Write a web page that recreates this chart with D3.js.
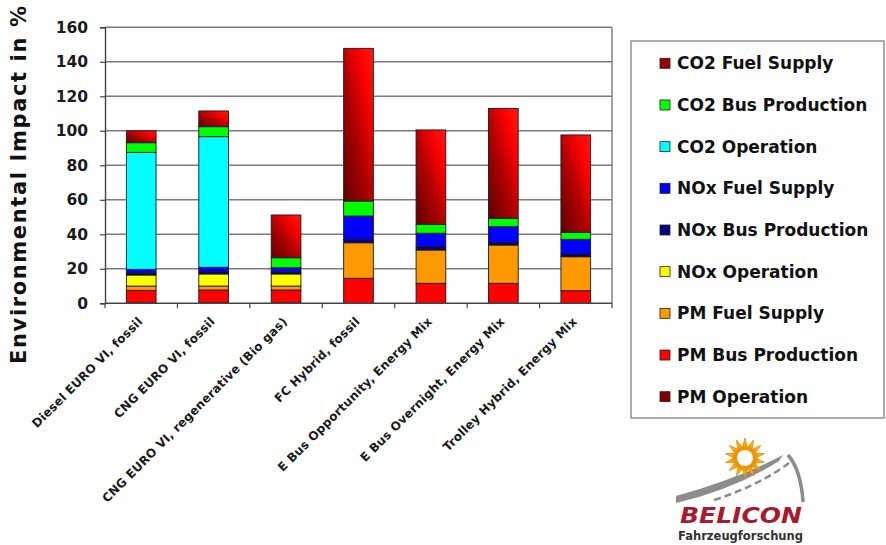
<!DOCTYPE html>
<html>
<head>
<meta charset="utf-8">
<script src="https://cdn.jsdelivr.net/npm/d3@7/dist/d3.min.js"></script>
<style>
  html, body { margin: 0; padding: 0; background: #fff; }
  svg { display: block; }
  text { font-family: "DejaVu Sans", Verdana, sans-serif; }
</style>
</head>
<body>
<svg id="chart" width="886" height="545"></svg>
<script>
// Bus concepts compared
const categories = [
  "Diesel EURO VI, fossil",
  "CNG EURO VI, fossil",
  "CNG EURO VI, regenerative (Bio gas)",
  "FC Hybrid, fossil",
  "E Bus Opportunity, Energy Mix",
  "E Bus Overnight, Energy Mix",
  "Trolley Hybrid, Energy Mix"
];

// Stacked contributions (% of the diesel reference), bottom to top
const pmOperation      = [0.3, 0.3, 0.3, 0, 0, 0, 0];
const pmBusProduction  = [7.2, 7.4, 7.4, 14.5, 11.6, 11.6, 7.3];
const pmFuelSupply     = [2.5, 2.3, 2.3, 20.6, 19.3, 22.2, 19.7];
const noxOperation     = [6.4, 7.0, 7.0, 0, 0, 0, 0];
const noxBusProduction = [1.2, 1.5, 1.2, 2.0, 1.9, 1.6, 1.6];
const noxFuelSupply    = [2.1, 2.4, 2.4, 13.5, 7.8, 9.0, 8.5];
const co2Operation     = [67.8, 75.7, 0, 0, 0, 0, 0];
const co2BusProduction = [5.6, 5.8, 5.8, 8.7, 5.2, 4.9, 4.1];
const co2FuelSupply    = [6.9, 9.1, 24.8, 88.5, 54.7, 63.7, 56.4];

const seriesNames = [
  "PM Operation", "PM Bus Production", "PM Fuel Supply",
  "NOx Operation", "NOx Bus Production", "NOx Fuel Supply",
  "CO2 Operation", "CO2 Bus Production", "CO2 Fuel Supply"
];
const seriesValues = [
  pmOperation, pmBusProduction, pmFuelSupply,
  noxOperation, noxBusProduction, noxFuelSupply,
  co2Operation, co2BusProduction, co2FuelSupply
];
const seriesColors = [
  "#800000", "#ff0000", "#ff9900",
  "#ffff00", "#000080", "#0000ff",
  "#00ffff", "#00ff00", "#990000"
];

const yTicks = [0, 20, 40, 60, 80, 100, 120, 140, 160];

const svg = d3.select("#chart");

// gradient used for the CO2 fuel supply segments
const defs = svg.append("defs");
const grad = defs.append("linearGradient")
  .attr("id", "co2fuel")
  .attr("x1", 0).attr("y1", 1).attr("x2", 1).attr("y2", 0);
grad.append("stop").attr("offset", 0).attr("stop-color", "#5e0000");
grad.append("stop").attr("offset", 0.45).attr("stop-color", "#b00000");
grad.append("stop").attr("offset", 0.75).attr("stop-color", "#ff0000");
grad.append("stop").attr("offset", 1).attr("stop-color", "#ff1a1a");

const sunGrad = defs.append("radialGradient").attr("id", "sunray");
sunGrad.append("stop").attr("offset", 0.5).attr("stop-color", "#f39200");
sunGrad.append("stop").attr("offset", 1).attr("stop-color", "#ffd21a");

const plotLeft = 105, plotRight = 612, plotTop = 27.3, plotBottom = 303.3;

const x = d3.scaleBand()
  .domain(categories)
  .range([plotLeft, plotRight])
  .paddingInner(0.59)
  .paddingOuter(0.295);

const y = d3.scaleLinear().domain([0, 160]).range([plotBottom, plotTop]);

// gridlines
svg.append("g")
  .selectAll("line")
  .data(yTicks.filter(d => d > 0))
  .join("line")
  .attr("x1", plotLeft).attr("x2", plotRight)
  .attr("y1", d => y(d)).attr("y2", d => y(d))
  .attr("stroke", "#7a7a7a").attr("stroke-width", 1.4);

// right border of the plot area
svg.append("line")
  .attr("x1", plotRight).attr("x2", plotRight)
  .attr("y1", plotTop).attr("y2", plotBottom)
  .attr("stroke", "#7a7a7a").attr("stroke-width", 1.4);

// stacked bars
const rows = categories.map((c, i) => {
  const r = { category: c };
  seriesNames.forEach((s, j) => { r[s] = seriesValues[j][i]; });
  return r;
});
const stacked = d3.stack().keys(seriesNames)(rows);

svg.append("g")
  .selectAll("g")
  .data(stacked)
  .join("g")
  .attr("fill", (d, i) => seriesNames[i] === "CO2 Fuel Supply" ? "url(#co2fuel)" : seriesColors[i])
  .selectAll("rect")
  .data(d => d.filter(p => p[1] - p[0] > 0))
  .join("rect")
  .attr("x", d => x(d.data.category))
  .attr("width", x.bandwidth())
  .attr("y", d => y(d[1]))
  .attr("height", d => y(d[0]) - y(d[1]))
  .attr("stroke", "#1a1a1a")
  .attr("stroke-width", 0.9);

// y axis
const yAxis = svg.append("g")
  .attr("transform", `translate(${plotLeft},0)`)
  .call(d3.axisLeft(y).tickValues(yTicks).tickSize(5).tickPadding(12));
yAxis.select(".domain").attr("stroke", "#444").attr("stroke-width", 1.4);
yAxis.selectAll(".tick line").attr("stroke", "#444").attr("stroke-width", 1.2);
yAxis.selectAll(".tick text")
  .attr("font-family", "DejaVu Sans, Verdana, sans-serif")
  .attr("font-size", 15.5).attr("font-weight", "bold").attr("fill", "#1a1a1a");

// x axis with ticks at category boundaries
const xAxisG = svg.append("g").attr("transform", `translate(0,${plotBottom})`);
xAxisG.append("line")
  .attr("x1", plotLeft).attr("x2", plotRight)
  .attr("stroke", "#444").attr("stroke-width", 1.4);
const step = x.step();
xAxisG.selectAll("line.tk")
  .data(d3.range(categories.length + 1))
  .join("line").attr("class", "tk")
  .attr("x1", i => plotLeft + i * step).attr("x2", i => plotLeft + i * step)
  .attr("y1", 0).attr("y2", 5)
  .attr("stroke", "#444").attr("stroke-width", 1.2);

// rotated category labels
svg.append("g")
  .selectAll("text")
  .data(categories)
  .join("text")
  .attr("transform", d => `translate(${x(d) + x.bandwidth() / 2 + 2},${plotBottom + 19}) rotate(-45)`)
  .attr("text-anchor", "end")
  .attr("font-size", 12).attr("font-weight", "bold").attr("fill", "#1a1a1a")
  .attr("letter-spacing", 0.2)
  .text(d => d);

// y axis title
svg.append("text")
  .attr("transform", "translate(26,185) rotate(-90)")
  .attr("text-anchor", "middle")
  .attr("font-size", 21).attr("font-weight", "bold").attr("fill", "#111")
  .attr("textLength", 358).attr("lengthAdjust", "spacing")
  .text("Environmental Impact in %");

// legend
const legend = svg.append("g");
legend.append("rect")
  .attr("x", 631).attr("y", 41).attr("width", 253).attr("height", 377)
  .attr("fill", "#fff").attr("stroke", "#8a8a8a").attr("stroke-width", 1.4);

const legendOrder = d3.range(seriesNames.length).reverse();
const ly = d3.scalePoint().domain(legendOrder).range([63.3, 396.7]);
const items = legend.selectAll("g.item")
  .data(legendOrder)
  .join("g").attr("class", "item")
  .attr("transform", i => `translate(660,${ly(i)})`);
items.append("rect")
  .attr("x", 0).attr("y", -5).attr("width", 10).attr("height", 10)
  .attr("fill", i => seriesColors[i])
  .attr("stroke", "#222").attr("stroke-width", 0.8);
items.append("text")
  .attr("x", 17).attr("y", 0).attr("dy", "0.36em")
  .attr("font-size", 17).attr("font-weight", "bold").attr("fill", "#111")
  .text(i => seriesNames[i]);

// BELICON logo
const logo = svg.append("g");
// road
logo.append("path")
  .attr("d", "M676,503 Q735,489 779,461 L783,455 Q740,478 676,496 Z")
  .attr("fill", "#8c8c8c");
logo.append("path")
  .attr("d", "M714,500 Q758,486 789,463")
  .attr("fill", "none").attr("stroke", "#8c8c8c").attr("stroke-width", 2.5)
  .attr("stroke-dasharray", "7 4");
logo.append("path")
  .attr("d", "M788,455 Q801,470 803,502")
  .attr("fill", "none").attr("stroke", "#8c8c8c").attr("stroke-width", 3.5);
// sun
const cx = 745, cy = 458, nRays = 14;
const star = [];
for (let k = 0; k < nRays * 2; k++) {
  const a = (k / (nRays * 2)) * 2 * Math.PI - Math.PI / 2;
  const r = k % 2 === 0 ? 20 : 11;
  star.push([cx + r * Math.cos(a), cy + r * Math.sin(a)]);
}
logo.append("path")
  .attr("d", d3.line()(star) + "Z")
  .attr("fill", "url(#sunray)").attr("stroke", "#e08700").attr("stroke-width", 0.8);
logo.append("circle").attr("cx", cx).attr("cy", cy).attr("r", 10.5).attr("fill", "#f29100");
logo.append("circle").attr("cx", cx).attr("cy", cy).attr("r", 8).attr("fill", "#fff");
logo.append("text")
  .attr("x", 680).attr("y", 523)
  .attr("font-family", "Liberation Serif, serif")
  .attr("font-style", "italic").attr("font-weight", "bold")
  .attr("font-size", 22).attr("fill", "#a51c2e")
  .attr("textLength", 122).attr("lengthAdjust", "spacingAndGlyphs")
  .text("BELICON");
logo.append("text")
  .attr("x", 678).attr("y", 540)
  .attr("font-family", "Open Sans, sans-serif")
  .attr("font-weight", 600)
  .attr("font-size", 13).attr("fill", "#333")
  .attr("textLength", 125).attr("lengthAdjust", "spacingAndGlyphs")
  .text("Fahrzeugforschung");
</script>
</body>
</html>
